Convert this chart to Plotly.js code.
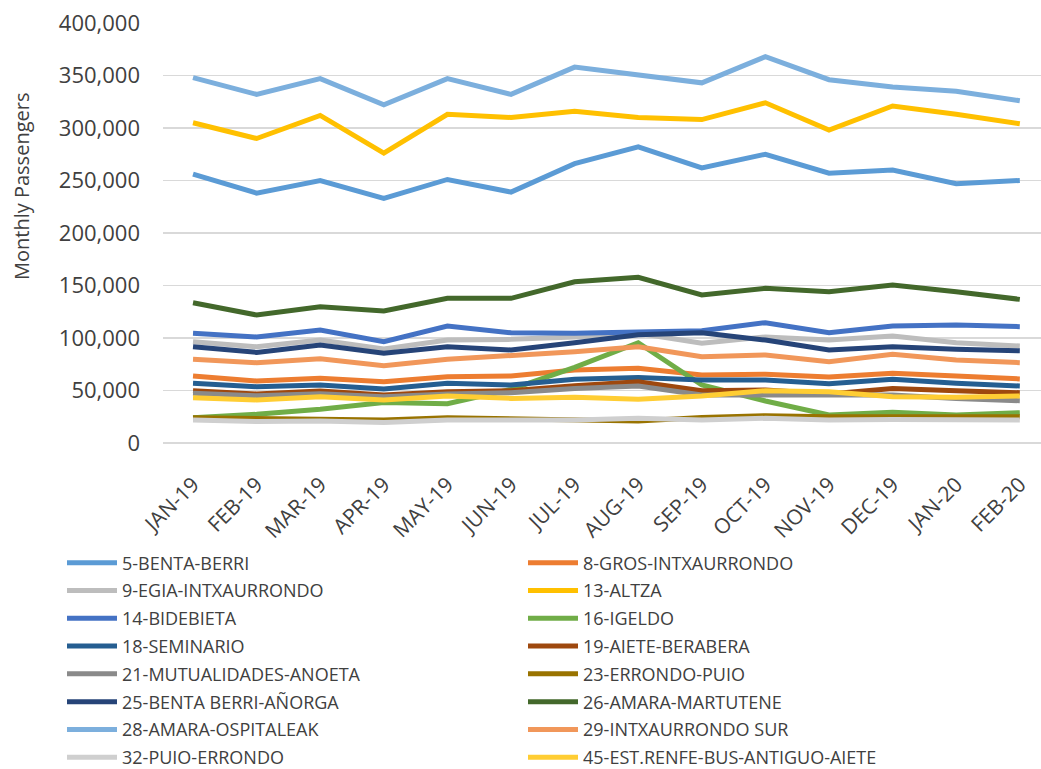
<!DOCTYPE html>
<html>
<head>
<meta charset="utf-8">
<script src="https://cdn.plot.ly/plotly-3.0.1.min.js"></script>
<style>html,body{margin:0;padding:0;background:#fff;}#chart{width:1041px;height:769px;}</style>
</head>
<body>
<div id="chart"></div>
<script>
const months = ["JAN-19","FEB-19","MAR-19","APR-19","MAY-19","JUN-19","JUL-19","AUG-19","SEP-19","OCT-19","NOV-19","DEC-19","JAN-20","FEB-20"];

const s5  = [256000,238000,250000,233000,251000,239000,266000,282000,262000,275000,257000,260000,247000,250000];
const s8  = [63800,59000,61600,58400,63200,63800,69500,71100,64800,65400,62800,66400,63800,61000];
const s9  = [96500,91700,98000,89500,98000,98700,101000,104600,95000,101000,98000,101900,95500,92400];
const s13 = [305000,290000,312000,276000,313000,310000,316000,310000,308000,324000,298000,321000,313000,304000];
const s14 = [104500,101000,107600,96500,111400,105000,104500,106000,107000,114600,105000,111400,112400,110800];
const s16 = [24100,27300,32100,38500,37500,51000,72000,95500,55200,40000,26700,29200,26700,28900];
const s18 = [56800,53600,55200,51400,56800,55200,60600,62500,60000,60000,56500,60600,56800,54300];
const s19 = [49800,46700,49500,45700,48900,49800,54600,58400,49800,50500,46700,52000,49800,47900];
const s21 = [47300,45000,47000,44000,46700,47900,52000,54300,45700,45700,44800,45700,42500,40300];
const s23 = [24000,23500,23000,22000,24000,23000,22000,21000,24400,26000,25000,25500,25000,25000];
const s25 = [91700,86300,93300,85400,91700,88600,95500,103000,105000,98000,88500,91700,89200,87900];
const s26 = [133600,121900,129800,125700,137800,137800,153600,157800,141000,147300,144100,150500,144100,136800];
const s28 = [348000,332000,347000,322000,347000,332000,358000,351000,343000,368000,346000,339000,335000,326000];
const s29 = [79700,76500,80300,73600,79700,82900,87000,91700,82200,83800,77500,84500,79000,76500];
const s32 = [22000,20500,21000,19500,22000,21500,22000,23500,22000,23500,22000,22500,22000,22000];
const s45 = [43200,41000,44100,41000,44800,42500,43500,41600,44800,49800,48900,44100,43500,44800];

const seriesNames = ["5-BENTA-BERRI","8-GROS-INTXAURRONDO","9-EGIA-INTXAURRONDO","13-ALTZA","14-BIDEBIETA","16-IGELDO","18-SEMINARIO","19-AIETE-BERABERA","21-MUTUALIDADES-ANOETA","23-ERRONDO-PUIO","25-BENTA BERRI-AÑORGA","26-AMARA-MARTUTENE","28-AMARA-OSPITALEAK","29-INTXAURRONDO SUR","32-PUIO-ERRONDO","45-EST.RENFE-BUS-ANTIGUO-AIETE"];
const seriesValues = [s5,s8,s9,s13,s14,s16,s18,s19,s21,s23,s25,s26,s28,s29,s32,s45];
const seriesColors = ["#5B9BD5","#ED7D31","#BDBDBD","#FFC000","#4472C4","#70AD47","#255E91","#9E480E","#8A8A8A","#997300","#264478","#43682B","#7CAFDD","#F1975A","#CFCFCF","#FFCD33"];

const font = "'Open Sans', 'DejaVu Sans', sans-serif";

const traces = seriesNames.map((n,i)=>({
  type:"scatter", mode:"lines", name:n, x:months, y:seriesValues[i],
  line:{color:seriesColors[i], width:5, shape:"linear"},
  legend: (i % 2 === 0) ? "legend" : "legend2",
  legendgroup: "g" + i,
  hoverinfo:"skip"
}));

const legendCommon = {
  orientation:"v", xref:"container", yref:"container",
  y:0.292, xanchor:"left", yanchor:"top",
  font:{size:18, color:"#404040", family:font},
  itemwidth:50, bgcolor:"rgba(0,0,0,0)", traceorder:"grouped", tracegroupgap:1.4
};

const layout = {
  width:1041, height:769,
  margin:{l:163, r:0, t:23, b:326, pad:0, autoexpand:false},
  paper_bgcolor:"#fff", plot_bgcolor:"#fff",
  showlegend:true,
  font:{family:font, color:"#404040"},
  xaxis:{
    type:"category", range:[-0.472, 13.333], tickangle:-45,
    showgrid:false, zeroline:false, showline:false, ticks:"",
    tickfont:{size:21, color:"#404040", family:font},
    ticklabelstandoff:24, fixedrange:true, automargin:false
  },
  yaxis:{
    range:[0,400000], dtick:50000, tickformat:",",
    showgrid:true, gridcolor:"#D9D9D9", gridwidth:1.3,
    zeroline:true, zerolinecolor:"#D9D9D9", zerolinewidth:1.3,
    showline:false, ticks:"",
    tickfont:{size:22, color:"#404040", family:font},
    ticklabelstandoff:22, fixedrange:true, automargin:false
  },
  legend:Object.assign({}, legendCommon, {x:62/1041}),
  legend2:Object.assign({}, legendCommon, {x:523/1041}),
  annotations:[{
    text:"Monthly Passengers", xref:"paper", yref:"paper",
    x:(22-163)/878, y:(443-187)/420, xanchor:"center", yanchor:"middle",
    textangle:-90, showarrow:false, font:{size:20, color:"#404040", family:font}
  }]
};

Plotly.newPlot("chart", traces, layout, {displayModeBar:false, staticPlot:true});
</script>
</body>
</html>
